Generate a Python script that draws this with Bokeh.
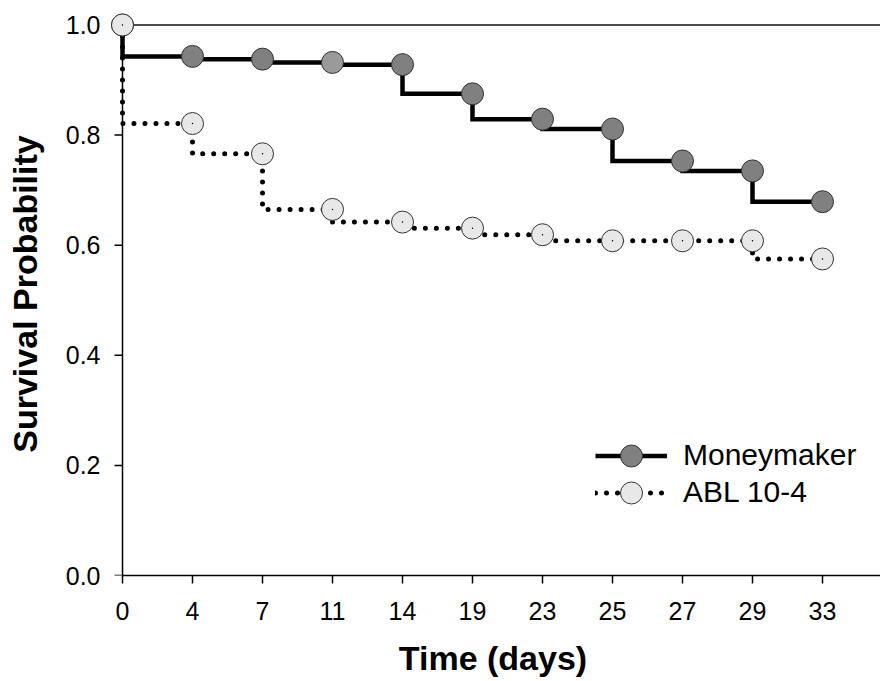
from bokeh.plotting import figure
from bokeh.models import Range1d, Legend, LegendItem, FixedTicker
from bokeh.embed import file_html
from bokeh.resources import INLINE

# ---- data ----
days = ["0", "4", "7", "11", "14", "19", "23", "25", "27", "29", "33"]
# survival probability right after each time point (step value)
mm_surv = [0.943, 0.938, 0.932, 0.928, 0.875, 0.829, 0.811, 0.753, 0.735, 0.679, 0.679]
abl_surv = [0.821, 0.766, 0.665, 0.642, 0.631, 0.619, 0.608, 0.608, 0.608, 0.575, 0.575]
start_surv = 1.0
y_ticks = [0.0, 0.2, 0.4, 0.6, 0.8, 1.0]
y_tick_labels = ["0.0", "0.2", "0.4", "0.6", "0.8", "1.0"]
mm_fill = ["#808080", "#808080", "#808080", "#9a9a9a", "#808080", "#808080",
           "#808080", "#808080", "#808080", "#808080", "#808080"]

FONT = "Liberation Sans"
xi = list(range(len(days)))

# layout constants (pixels)
W, H = 880, 681
ML, MB, MT = 105, 106, 12
PX_X = 70.0
X0 = -17.0 / PX_X
X1 = X0 + (W - ML) / PX_X
PX_Y = 550.5
Y1 = (H - MB - MT) / PX_Y
TICK = 8.0 / PX_X

p = figure(width=W, height=H, x_range=Range1d(X0, X1), y_range=Range1d(0, Y1),
           output_backend="svg", toolbar_location=None,
           min_border_left=ML, min_border_right=0, min_border_top=MT, min_border_bottom=MB)
p.outline_line_color = None
p.xgrid.grid_line_color = None
p.ygrid.grid_line_color = None
p.background_fill_color = "white"
p.border_fill_color = "white"

# x axis
xa = p.xaxis[0]
xa.axis_line_width = 1.5
xa.axis_line_color = "black"
xa.major_tick_line_width = 1.5
xa.major_tick_line_color = "black"
xa.major_tick_in = 0
xa.major_tick_out = 8
xa.minor_tick_line_color = None
xa.ticker = FixedTicker(ticks=xi)
xa.major_label_overrides = {i: d for i, d in zip(xi, days)}
xa.bounds = (0, len(days))
xa.major_label_standoff = 18
xa.major_label_text_font = FONT
xa.major_label_text_font_size = "25px"
xa.major_label_text_color = "black"
xa.axis_label = "Time (days)"
xa.axis_label_text_font = FONT
xa.axis_label_text_font_style = "bold"
xa.axis_label_text_font_size = "34px"
xa.axis_label_text_color = "black"
xa.axis_label_standoff = 16

# y axis (labels only; line and ticks drawn at x = 0 below)
ya = p.yaxis[0]
ya.axis_line_color = None
ya.major_tick_line_color = None
ya.minor_tick_line_color = None
ya.major_tick_in = 0
ya.major_tick_out = 0
ya.ticker = FixedTicker(ticks=y_ticks)
ya.major_label_overrides = {t: l for t, l in zip(y_ticks, y_tick_labels)}
ya.bounds = (0, 1.0)
ya.major_label_standoff = 5
ya.major_label_text_font = FONT
ya.major_label_text_font_size = "25px"
ya.major_label_text_color = "black"
ya.axis_label = "Survival Probability"
ya.axis_label_text_font = FONT
ya.axis_label_text_font_style = "bold"
ya.axis_label_text_font_size = "34px"
ya.axis_label_text_color = "black"
ya.axis_label_standoff = 19

# y axis line and ticks at x = 0
p.segment(x0=[0], y0=[y_ticks[0]], x1=[0], y1=[y_ticks[-1]], line_color="black", line_width=1.5)
p.segment(x0=[-TICK] * len(y_ticks), y0=y_ticks, x1=[0] * len(y_ticks), y1=y_ticks,
          line_color="black", line_width=1.5)

# top reference line at 1.0
p.segment(x0=[0], y0=[start_surv], x1=[X1], y1=[start_surv], line_color="#111111", line_width=1.3)

# step lines
abl_line = p.step(x=[0] + xi, y=[start_surv] + abl_surv, mode="after",
                  line_color="black", line_width=5, line_dash="0 11",
                  line_cap="round", line_join="round")
mm_line = p.step(x=[0] + xi, y=[start_surv] + mm_surv, mode="after",
                 line_color="black", line_width=4.5, line_join="miter")

# circles (value just before each time point)
mm_cy = [start_surv] + mm_surv[:-1]
abl_cy = [start_surv] + abl_surv[:-1]
mm_pts = p.scatter(x=xi, y=mm_cy, size=22, fill_color=mm_fill,
                   line_color="#333333", line_width=1)
abl_pts = p.scatter(x=xi, y=abl_cy, size=22, fill_color="#e8e8e8",
                    line_color="#333333", line_width=1)
p.scatter(x=xi, y=abl_cy, size=1.5, fill_color="black", line_color=None)

# legends (two, so markers can be large)
common = dict(glyph_width=72, glyph_height=55, label_standoff=16, padding=0, margin=0,
              spacing=0, border_line_color=None, background_fill_alpha=0,
              label_text_font=FONT, label_text_font_size="30px", label_text_color="black")
leg1 = Legend(items=[LegendItem(label="Moneymaker", renderers=[mm_line, mm_pts])],
              location=(490, 92.5), **common)
leg2 = Legend(items=[LegendItem(label="ABL 10-4", renderers=[abl_line, abl_pts])],
              location=(490, 55.5), **common)
p.add_layout(leg1)
p.add_layout(leg2)

open("out.html", "w").write(file_html(p, INLINE))
